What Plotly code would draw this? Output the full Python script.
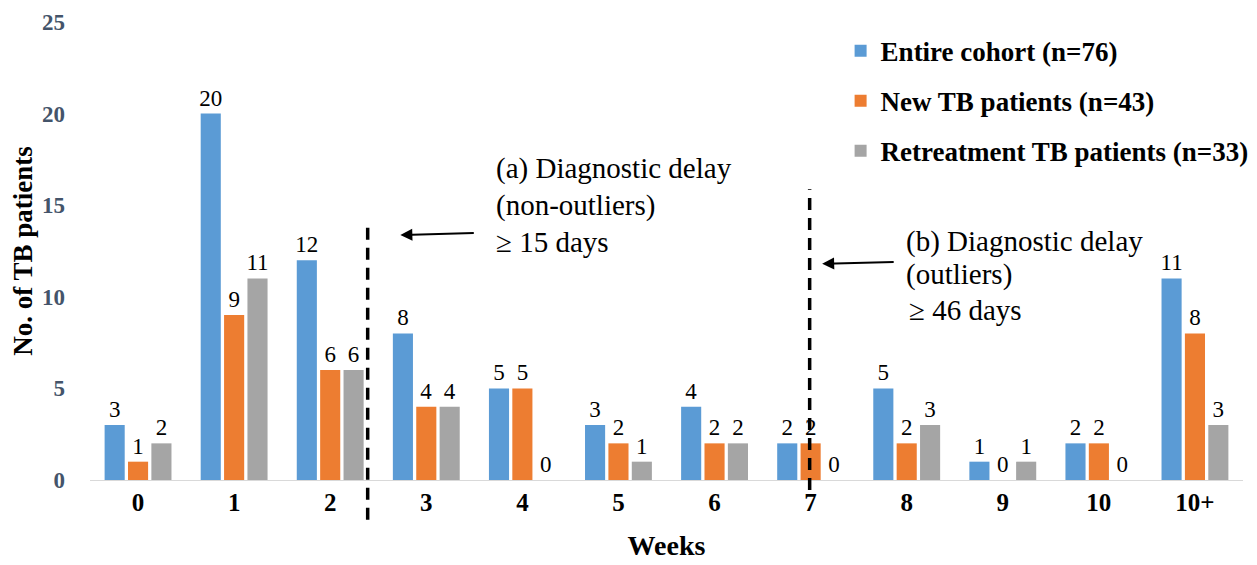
import plotly.graph_objects as go

weeks = ["0", "1", "2", "3", "4", "5", "6", "7", "8", "9", "10", "10+"]
entire = [3, 20, 12, 8, 5, 3, 4, 2, 5, 1, 2, 11]
new_tb = [1, 9, 6, 4, 5, 2, 2, 2, 2, 0, 2, 8]
retreat = [2, 11, 6, 4, 0, 1, 2, 0, 3, 1, 0, 3]
names = ["Entire cohort (n=76)", "New TB patients (n=43)", "Retreatment TB patients (n=33)"]
colors = ["#5B9BD5", "#ED7D31", "#A5A5A5"]

serif = "Liberation Serif, Times New Roman, serif"

fig = go.Figure()
for i, (vals, nm, col) in enumerate(zip([entire, new_tb, retreat], names, colors)):
    fig.add_trace(go.Bar(
        x=weeks, y=vals, name="<b>" + nm + "</b>",
        marker=dict(color=col, line=dict(width=0)),
        text=vals, textposition="outside", cliponaxis=False, constraintext="none",
        textfont=dict(family=serif, size=23, color="#000"),
        legendgroup=str(i),
    ))

fig.update_layout(
    width=1249, height=557,
    margin=dict(l=82, r=14, t=14, b=85, autoexpand=False),
    plot_bgcolor="white", paper_bgcolor="white",
    barmode="group", bargap=0.27, bargroupgap=0.14,
    font=dict(family=serif, color="#000"),
    showlegend=True,
    legend=dict(x=0.651, y=0.99, xanchor="left", yanchor="top",
                font=dict(family=serif, size=27, color="#000"),
                bgcolor="rgba(0,0,0,0)", traceorder="grouped", tracegroupgap=12,
                itemwidth=30),
    xaxis=dict(
        showgrid=False, showline=True, linecolor="#D9D9D9", linewidth=1,
        tickfont=dict(family=serif, size=25, color="#000", weight="bold"),
        title=dict(text="<b>Weeks</b>", font=dict(family=serif, size=28, color="#000"), standoff=20),
        ticks="", automargin=False,
    ),
    yaxis=dict(
        range=[0, 25], dtick=5, showgrid=False, zeroline=False, showline=False,
        tickfont=dict(family=serif, size=23, color="#44546A", weight="bold"),
        title=dict(text="<b>No. of TB patients</b>", font=dict(family=serif, size=27, color="#000"), standoff=10),
        ticklabelstandoff=24, automargin=False,
    ),
)

# dashed lines
fig.add_shape(type="line", xref="x", yref="paper", x0=2.39, x1=2.39, y0=-0.087, y1=0.563,
              line=dict(color="black", width=3.5, dash="12px,8px"))
fig.add_shape(type="line", xref="x", yref="paper", x0=6.99, x1=6.99, y0=-0.022, y1=0.635,
              line=dict(color="black", width=3.5, dash="12px,8px"))

def txt(x, y, s):
    fig.add_annotation(x=x, y=y, xref="x", yref="y", text=s, showarrow=False,
                       xanchor="left", yanchor="middle",
                       font=dict(family=serif, size=29, color="#000"))

txt(3.70, 17.03, "(a) Diagnostic delay")
txt(3.70, 15.01, "(non-outliers)")
txt(3.70, 13.0, "\u2265 15 days")
txt(7.97, 13.0, "(b) Diagnostic delay")
txt(7.97, 11.24, "(outliers)")
txt(8.0, 9.28, "\u2265 46 days")

fig.add_annotation(x=2.73, y=13.37, ax=3.51, ay=13.48, xref="x", yref="y", axref="x", ayref="y",
                   text="", showarrow=True, arrowhead=2, arrowsize=1.2, arrowwidth=2, arrowcolor="black")
fig.add_annotation(x=7.12, y=11.8, ax=7.88, ay=11.9, xref="x", yref="y", axref="x", ayref="y",
                   text="", showarrow=True, arrowhead=2, arrowsize=1.2, arrowwidth=2, arrowcolor="black")

fig.write_html("out.html")
